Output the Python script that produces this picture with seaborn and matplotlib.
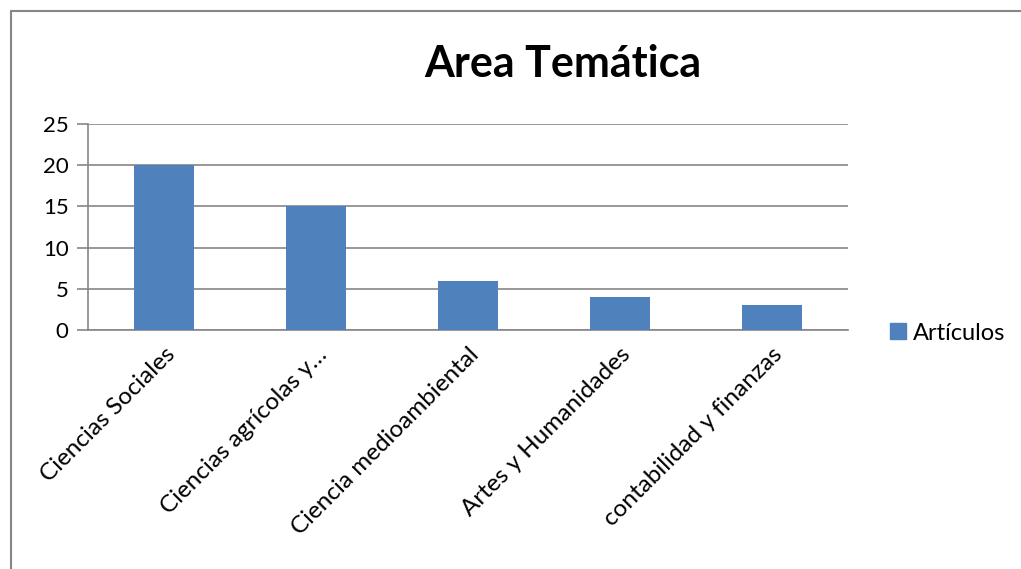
import pandas as pd
import seaborn as sns
import matplotlib.pyplot as plt
import numpy as np
from matplotlib.lines import Line2D

# Data
categories = [
    "Ciencias Sociales",
    "Ciencias agrícolas y…",
    "Ciencia medioambiental",
    "Artes y Humanidades",
    "contabilidad y finanzas",
]
articulos = [20, 15, 6, 4, 3]
series_name = "Artículos"
title = "Area Temática"
yticks = [0, 5, 10, 15, 20, 25]

bar_color = "#4F81BD"
grid_color = "#868686"

sns.set_style("white")
plt.rcParams["font.family"] = ["Lato", "DejaVu Sans"]
plt.rcParams["text.color"] = "black"
plt.rcParams["xtick.labelcolor"] = "black"
plt.rcParams["ytick.labelcolor"] = "black"

df = pd.DataFrame({"categoria": categories, "valor": articulos})

fig = plt.figure(figsize=(10.21, 5.69), dpi=100)
ax = fig.add_axes([88 / 1021, 239 / 569, 760 / 1021, 206 / 569])

sns.barplot(data=df, x="categoria", y="valor", color=bar_color, width=0.4,
            saturation=1, linewidth=0, ax=ax, zorder=3)

ax.set_xlim(-0.5, len(categories) - 0.5)
ax.set_ylim(0, 25)
ax.set_yticks(yticks)
ax.set_yticklabels([str(t) for t in yticks], fontsize=16)
ax.yaxis.grid(True, color=grid_color, linewidth=1.2, zorder=0)
ax.set_xlabel("")
ax.set_ylabel("")

# category labels, rotated like Excel
ax.set_xticks(range(len(categories)))
ax.set_xticklabels(categories, rotation=45, ha="right", va="top",
                   rotation_mode="anchor", fontsize=17.5)
ax.tick_params(axis="x", which="major", length=0, pad=10)
ax.set_xticks(np.arange(-0.5, len(categories)), minor=True)
ax.tick_params(axis="x", which="minor", length=6, width=1.2, color=grid_color,
               direction="out")
ax.tick_params(axis="y", length=8, width=1.2, color=grid_color, direction="out",
               left=True, pad=6)

for side in ["top", "right"]:
    ax.spines[side].set_visible(False)
for side in ["left", "bottom"]:
    ax.spines[side].set_color(grid_color)
    ax.spines[side].set_linewidth(1.2)

fig.text(563 / 1021, 1 - 64 / 569, title, ha="center", va="center",
         fontsize=31, fontweight="bold")

handle = Line2D([], [], marker="s", linestyle="", markersize=12,
                color=bar_color)
fig.legend([handle], [series_name], loc="center left",
           bbox_to_anchor=(863 / 1021, 1 - 333 / 569), frameon=False,
           fontsize=17, handletextpad=0.0, handlelength=1.2)

# outer chart border: only top and left edges are inside the image
bx, by = 10.5 / 1021, 1 - 10.5 / 569
fig.add_artist(Line2D([bx, bx], [0, by], transform=fig.transFigure,
                      color=grid_color, linewidth=1.5))
fig.add_artist(Line2D([bx, 1], [by, by], transform=fig.transFigure,
                      color=grid_color, linewidth=1.5))

fig.savefig("out.png", dpi=100)
